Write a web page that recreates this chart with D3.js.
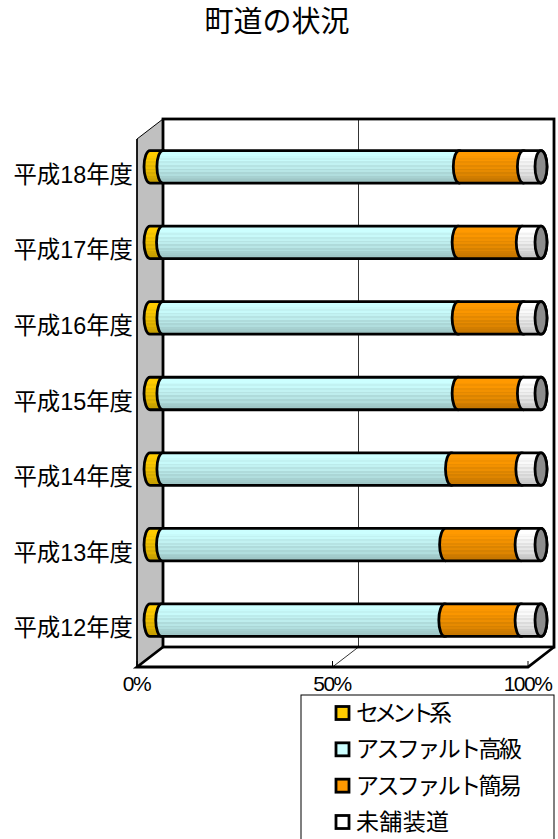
<!DOCTYPE html>
<html><head><meta charset="utf-8">
<script src="https://cdn.jsdelivr.net/npm/d3@7/dist/d3.min.js"></script>
<style>html,body{margin:0;padding:0;background:#fff;overflow:hidden}
text{font-family:"Liberation Sans","Noto Sans CJK JP",sans-serif;fill:#000}</style>
</head><body><svg id="c" width="558" height="839"></svg>
<script>
const title = "町道の状況";
const categories = ["平成18年度","平成17年度","平成16年度","平成15年度","平成14年度","平成13年度","平成12年度"];
const seriesNames = ["セメント系","アスファルト高級","アスファルト簡易","未舗装道"];
const cement  = [3.3,3.2,3.3,3.3,3.3,3.2,3.0];
const asphaltHigh = [75.8,75.6,75.5,75.5,73.8,72.4,72.4];
const asphaltLow  = [16.4,16.4,16.7,16.7,18.0,19.3,19.5];
const unpaved = [4.5,4.8,4.5,4.5,4.9,5.1,5.1];
const seriesValues = [cement,asphaltHigh,asphaltLow,unpaved];
const tickValues = [0,50,100];
const colors = ["#FFCC00","#CCFFFF","#FF9900","#FFFFFF"];
const bandShade = [1,1,1,.98,.95,.98,.92,.95,.89,.93,.86,.9,.84,.87,.82,.8,.78,.76];
const legendWidths = [96,166,166,93];

const svg = d3.select("#c");
const x0=137, x1=528, dx=26, dy=-20, frontBottom=667, backTop=119;
const wallX = d3.scaleLinear().domain([0,100]).range([x0+dx,x1+dx]);
const floorX = d3.scaleLinear().domain([0,100]).range([x0,x1]);
const barX = d3.scaleLinear().domain([0,100]).range([x0+13,x1+13]);
const y = d3.scaleBand().domain(categories).range([129,658]).paddingInner(0.57).paddingOuter(0.285);

const defs = svg.append("defs");
colors.forEach((c,i)=>{
  const g = defs.append("linearGradient").attr("id","g"+i).attr("x1",0).attr("x2",0).attr("y1",0).attr("y2",1);
  const base = d3.rgb(c);
  bandShade.forEach((f,k)=>{
    const col = d3.rgb(base.r*f,base.g*f,base.b*f).formatHex();
    g.append("stop").attr("offset",(k/bandShade.length*100)+"%").attr("stop-color",col);
    g.append("stop").attr("offset",((k+1)/bandShade.length*100)+"%").attr("stop-color",col);
  });
});

svg.append("text").attr("x",277).attr("y",32).attr("text-anchor","middle").attr("font-size",29).attr("fill","#111").text(title);

// walls
svg.append("path").attr("d",`M${x0},${backTop-dy}L${x0+dx},${backTop}V${frontBottom+dy}L${x0},${frontBottom}Z`)
  .attr("fill","#C0C0C0").attr("stroke","#000").attr("stroke-width",1);
svg.append("rect").attr("x",wallX(0)).attr("y",backTop).attr("width",wallX(100)-wallX(0)).attr("height",frontBottom+dy-backTop)
  .attr("fill","#fff").attr("stroke","#000").attr("stroke-width",2.8);
svg.append("line").attr("x1",wallX(50)).attr("x2",wallX(50)).attr("y1",backTop).attr("y2",frontBottom+dy).attr("stroke","#000").attr("stroke-width",0.8);
svg.append("line").attr("x1",wallX(50)).attr("x2",floorX(50)).attr("y1",frontBottom+dy).attr("y2",frontBottom).attr("stroke","#000").attr("stroke-width",0.8);
svg.append("path").attr("d",`M${x0+dx},${frontBottom+dy}L${x0},${frontBottom}H${x1}L${x1+dx},${frontBottom+dy}`)
  .attr("fill","none").attr("stroke","#000").attr("stroke-width",2.8);
svg.append("line").attr("x1",x0).attr("x2",x0).attr("y1",backTop-dy).attr("y2",frontBottom).attr("stroke","#000").attr("stroke-width",1.5);

// axis
const axisG = svg.append("g").attr("transform",`translate(0,${frontBottom})`);
axisG.selectAll("line").data(tickValues).join("line").attr("x1",d=>floorX(d)).attr("x2",d=>floorX(d)).attr("y1",-6).attr("y2",0).attr("stroke","#000").attr("stroke-width",1);
axisG.selectAll("text").data(tickValues).join("text")
  .attr("x",d=>floorX(d)-0.5).attr("y",24).attr("text-anchor","middle").attr("font-size",21).attr("letter-spacing",-1.5)
  .attr("fill","#222").text(d=>d+"%");

// category labels
svg.selectAll("text.cat").data(categories).join("text").attr("class","cat")
  .attr("x",133).attr("y",d=>y(d)+y.bandwidth()/2+16).attr("text-anchor","end").attr("font-size",23.4).attr("fill","#111").text(d=>d);

// cylinders
const rx=6;
categories.forEach((cat,r)=>{
  const top=y(cat), bot=top+y.bandwidth(), ry=(bot-top)/2;
  let acc=0;
  seriesValues.forEach((vals,s)=>{
    const a=barX(acc), b=barX(acc+vals[r]); acc+=vals[r];
    svg.append("path")
      .attr("d",`M${a},${top}L${b},${top}A${rx},${ry} 0 0 1 ${b},${bot}L${a},${bot}A${rx},${ry} 0 0 1 ${a},${top}Z`)
      .attr("fill",`url(#g${s})`).attr("stroke","#000").attr("stroke-width",2.8);
    if(s===seriesValues.length-1){
      svg.append("ellipse").attr("cx",b).attr("cy",(top+bot)/2).attr("rx",rx).attr("ry",ry)
        .attr("fill","#8C8C8C").attr("stroke","#000").attr("stroke-width",2.8);
    }
  });
});

// legend
svg.append("rect").attr("x",301).attr("y",695).attr("width",253).attr("height",170).attr("fill","#fff").attr("stroke","#000").attr("stroke-width",1);
const legendY = d3.scalePoint().domain(seriesNames).range([713,822]);
seriesNames.forEach((n,i)=>{
  svg.append("rect").attr("x",336).attr("y",legendY(n)-6.5).attr("width",13).attr("height",13).attr("fill",colors[i]).attr("stroke","#000").attr("stroke-width",2.8);
  svg.append("text").attr("x",356).attr("y",legendY(n)+8).attr("font-size",23).attr("fill","#111")
    .attr("textLength",legendWidths[i]).attr("lengthAdjust","spacing").text(n);
});
</script></body></html>
